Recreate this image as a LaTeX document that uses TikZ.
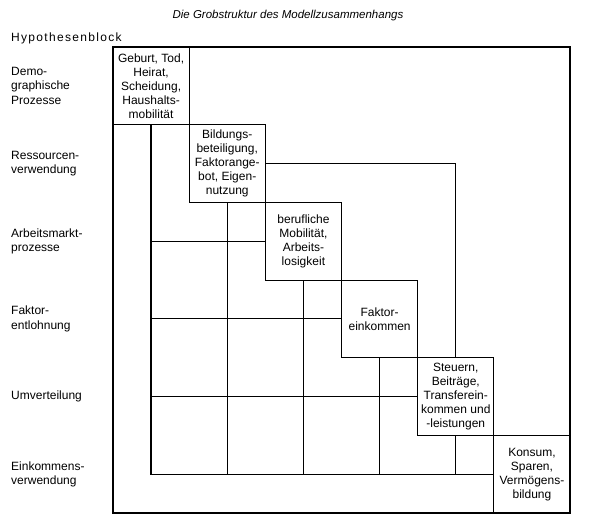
\documentclass[tikz,border=0pt]{standalone}
\usepackage{fontspec}
\setmainfont{Liberation Sans}
\usetikzlibrary{positioning}

\tikzset{
  feld/.style={draw, line width=1pt, outer sep=0pt, inner sep=1pt,
    minimum width=76.17pt, minimum height=77.67pt, align=center,
    font=\fontsize{12}{14}\selectfont},
  zeile/.style={anchor=west, align=left, font=\fontsize{12}{14.5}\selectfont},
  gitter/.style={line width=1pt},
}

\begin{document}
\begin{tikzpicture}[x=76.17pt, y=-77.67pt]
\useasboundingbox (-1.4835,-0.6051) rectangle (6.3936,6.1929);

% Titel und Kopf
\node[font=\fontsize{11.5}{13}\selectfont\itshape] (titel) at (2.297,-0.41)
  {Die Grobstruktur des Modellzusammenhangs};
\node[anchor=west, inner sep=0pt, font=\fontsize{12}{14}\selectfont\addfontfeature{LetterSpace=11}]
  (hypo) at (-1.3392,-0.116) {Hypothesenblock};

% aeusserer Rahmen
\draw[line width=1.2pt] (0,0) rectangle (6,6);

% Bloecke auf der Diagonalen
\node[feld] (geburt) at (0.5,0.5)
  {Geburt, Tod,\\Heirat,\\Scheidung,\\Haushalts-\\mobilität};
\node[feld, below right=0pt of geburt] (bildung)
  {Bildungs-\\beteiligung,\\Faktorange-\\bot, Eigen-\\nutzung};
\node[feld, below right=0pt of bildung] (mobil)
  {berufliche\\Mobilität,\\Arbeits-\\losigkeit};
\node[feld, below right=0pt of mobil] (faktor)
  {Faktor-\\einkommen};
\node[feld, below right=0pt of faktor] (steuern)
  {Steuern,\\Beiträge,\\Transferein-\\kommen und\\-leistungen};
\node[feld, below right=0pt of steuern] (konsum)
  {Konsum,\\Sparen,\\Vermögens-\\bildung};

% oberes Dreieck
\draw[gitter] (2,1.5) -- (4.5,1.5) -- (4.5,4);

% unteres Dreieck
\draw[line width=1.3pt] (0.5,1) -- (0.5,5.5) -- (5,5.5);
\draw[gitter] (1.5,2) -- (1.5,5.5);
\draw[gitter] (2.5,3) -- (2.5,5.5);
\draw[gitter] (3.5,4) -- (3.5,5.5);
\draw[gitter] (4.5,5) -- (4.5,5.5);
\draw[gitter] (0.5,2.5) -- (2,2.5);
\draw[gitter] (0.5,3.5) -- (3,3.5);
\draw[line width=1.5pt] (0.5,4.5) -- (4,4.5);

% Zeilen links
\node[zeile, inner sep=0pt] (demo) at (-1.3392,0.5) {Demo-\\graphische\\Prozesse};
\node[zeile, inner sep=0pt] (ressourcen) at (-1.3392,1.5) {Ressourcen-\\verwendung};
\node[zeile, inner sep=0pt] (arbeit) at (-1.3392,2.5) {Arbeitsmarkt-\\prozesse};
\node[zeile, inner sep=0pt] (entlohnung) at (-1.3392,3.5) {Faktor-\\entlohnung};
\node[zeile, inner sep=0pt] (umvert) at (-1.3392,4.5) {Umverteilung};
\node[zeile, inner sep=0pt] (verwendung) at (-1.3392,5.5) {Einkommens-\\verwendung};

\end{tikzpicture}
\end{document}
